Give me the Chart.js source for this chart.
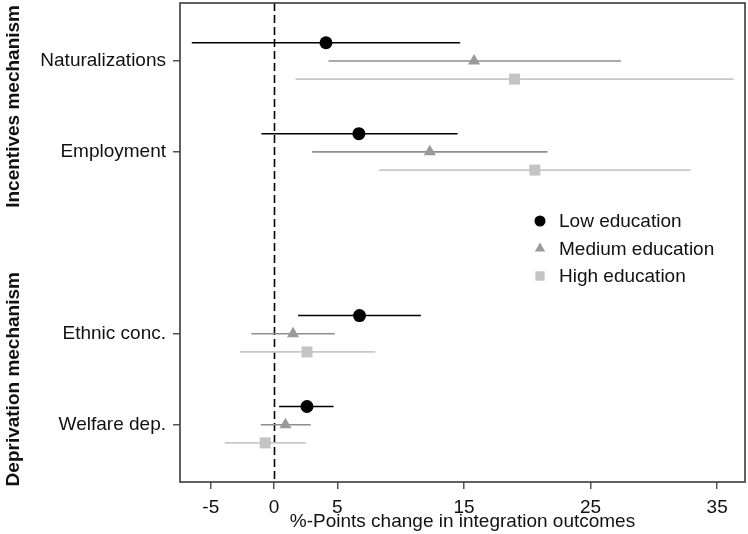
<!DOCTYPE html>
<html>
<head>
<meta charset="utf-8">
<script src="https://cdn.jsdelivr.net/npm/chart.js@4"></script>
<style>
  html, body { margin: 0; padding: 0; background: #fff; }
  #wrap { width: 748px; height: 534px; }
</style>
</head>
<body>
<div id="wrap"><canvas id="c" width="748" height="534"></canvas></div>
<script>
// Outcomes (rows) and the mechanism group each belongs to
const categories = ['Naturalizations', 'Employment', 'Ethnic conc.', 'Welfare dep.'];
const categoryGroup = [0, 0, 1, 1];
const groupTitles = ['Incentives mechanism', 'Deprivation mechanism'];

// Education levels (series)
const seriesNames = ['Low education', 'Medium education', 'High education'];

// Point estimates and confidence bounds, one value per outcome
const lowEst  = [4.1, 6.7, 6.75, 2.6];
const lowLo   = [-6.5, -1.0, 1.9, 0.4];
const lowHi   = [14.7, 14.5, 11.6, 4.7];

const medEst  = [15.8, 12.3, 1.5, 0.9];
const medLo   = [4.3, 3.0, -1.8, -1.05];
const medHi   = [27.4, 21.6, 4.8, 2.9];

const highEst = [19.0, 20.6, 2.6, -0.7];
const highLo  = [1.7, 8.3, -2.7, -3.9];
const highHi  = [36.3, 32.9, 8.0, 2.5];

// Horizontal axis tick values
const xTickValues = [-5, 0, 5, 15, 25, 35];

const FONT = '"Liberation Sans", Arial, sans-serif';
const FS = 19;

// Row position: one slot per outcome plus an empty slot between groups
const rowPos = categories.map((_, i) => i + 1 + categoryGroup[i]);
const seriesOffset = [-0.2, 0, 0.2];

const seriesStyle = [
  { color: '#000000', line: '#000000', lineWidth: 1.6, pointStyle: 'circle',   radius: 6.5 },
  { color: '#9a9a9a', line: '#8e8e8e', lineWidth: 1.6, pointStyle: 'triangle', radius: 7 },
  { color: '#c4c4c4', line: '#c8c8c8', lineWidth: 1.8, pointStyle: 'rect',     radius: 7.8 }
];

const est = [lowEst, medEst, highEst];
const lo  = [lowLo, medLo, highLo];
const hi  = [lowHi, medHi, highHi];

const datasets = seriesNames.map((name, s) => ({
  label: name,
  data: est[s].map((v, i) => ({ x: v, y: rowPos[i] + seriesOffset[s] })),
  lo: lo[s],
  hi: hi[s],
  backgroundColor: seriesStyle[s].color,
  borderColor: seriesStyle[s].color,
  borderWidth: 0,
  pointStyle: seriesStyle[s].pointStyle,
  pointRadius: seriesStyle[s].radius,
  pointHoverRadius: seriesStyle[s].radius,
  lineColor: seriesStyle[s].line,
  lineWidthCI: seriesStyle[s].lineWidth
}));

// Confidence intervals, zero reference line and plot frame
const intervalPlugin = {
  id: 'intervals',
  beforeDatasetsDraw(chart) {
    const { ctx, chartArea: a, scales: { x, y } } = chart;
    ctx.save();
    // zero reference line
    ctx.strokeStyle = '#000';
    ctx.lineWidth = 1.6;
    ctx.setLineDash([8, 4]);
    const x0 = Math.round(x.getPixelForValue(0)) + 0.5;
    ctx.beginPath();
    ctx.moveTo(x0, a.top);
    ctx.lineTo(x0, a.bottom);
    ctx.stroke();
    ctx.setLineDash([]);
    // interval bars
    chart.data.datasets.forEach((ds) => {
      ctx.strokeStyle = ds.lineColor;
      ctx.lineWidth = ds.lineWidthCI;
      ds.data.forEach((p, i) => {
        const py = y.getPixelForValue(p.y);
        ctx.beginPath();
        ctx.moveTo(x.getPixelForValue(ds.lo[i]), py);
        ctx.lineTo(x.getPixelForValue(ds.hi[i]), py);
        ctx.stroke();
      });
    });
    ctx.restore();
  },
  afterDraw(chart) {
    const { ctx, chartArea: a, scales: { y } } = chart;
    ctx.save();
    // frame
    ctx.strokeStyle = '#3a3a3a';
    ctx.lineWidth = 1.6;
    ctx.strokeRect(a.left, a.top, a.right - a.left, a.bottom - a.top);

    // group titles, rotated
    ctx.fillStyle = '#111';
    ctx.font = 'bold ' + FS + 'px ' + FONT;
    ctx.textAlign = 'center';
    ctx.textBaseline = 'middle';
    groupTitles.forEach((t, g) => {
      const rows = rowPos.filter((_, i) => categoryGroup[i] === g);
      const cy = (y.getPixelForValue(Math.min(...rows)) + y.getPixelForValue(Math.max(...rows))) / 2;
      ctx.save();
      ctx.translate(14, cy);
      ctx.rotate(-Math.PI / 2);
      ctx.fillText(t, 0, 0);
      ctx.restore();
    });

    // legend inside the plot
    const lx = 540, ly = 221, step = 27.5;
    ctx.font = FS + 'px ' + FONT;
    ctx.textAlign = 'left';
    chart.data.datasets.forEach((ds, s) => {
      const cy = ly + s * step;
      ctx.fillStyle = ds.backgroundColor;
      ctx.strokeStyle = ds.backgroundColor;
      Chart.helpers.drawPoint(ctx, {
        pointStyle: ds.pointStyle,
        radius: ds.pointRadius * 0.85,
        borderWidth: 0,
        rotation: 0
      }, lx, cy);
      ctx.fillStyle = '#111';
      ctx.fillText(ds.label, lx + 19, cy + 1);
    });
    ctx.restore();
  }
};

function noPadding(scale) {
  scale.paddingTop = 0;
  scale.paddingBottom = 0;
  scale.paddingLeft = 0;
  scale.paddingRight = 0;
}

new Chart(document.getElementById('c'), {
  type: 'scatter',
  data: { datasets },
  options: {
    responsive: false,
    animation: false,
    devicePixelRatio: 1,
    layout: { autoPadding: false, padding: { top: 3, right: 3, left: 0, bottom: 0 } },
    plugins: {
      legend: { display: false },
      tooltip: { enabled: false }
    },
    scales: {
      x: {
        type: 'linear',
        min: -7.43,
        max: 37.2,
        afterBuildTicks(scale) {
          scale.ticks = xTickValues.map(v => ({ value: v }));
        },
        afterFit(scale) { scale.height = 52; noPadding(scale); },
        grid: { drawOnChartArea: false, drawTicks: true, tickLength: 7, tickColor: '#555', lineWidth: 1.5 },
        border: { display: false },
        ticks: {
          font: { family: FONT, size: FS, lineHeight: 1.0 },
          color: '#111',
          padding: 9,
          maxRotation: 0,
          autoSkip: false,
          callback: v => String(v)
        },
        title: {
          display: true,
          text: '%-Points change in integration outcomes',
          font: { family: FONT, size: FS, lineHeight: 1.0 },
          color: '#111',
          padding: { top: 0, bottom: 3 }
        }
      },
      y: {
        type: 'linear',
        reverse: true,
        min: 0.363,
        max: 5.63,
        afterBuildTicks(scale) {
          scale.ticks = rowPos.map(v => ({ value: v }));
        },
        afterFit(scale) { scale.width = 180; noPadding(scale); },
        grid: { drawOnChartArea: false, drawTicks: true, tickLength: 7, tickColor: '#555', lineWidth: 1.5 },
        border: { display: false },
        ticks: {
          font: { family: FONT, size: FS },
          color: '#111',
          padding: 7,
          autoSkip: false,
          callback: v => {
            const i = rowPos.indexOf(v);
            return i >= 0 ? categories[i] : '';
          }
        }
      }
    }
  },
  plugins: [intervalPlugin]
});
</script>
</body>
</html>
